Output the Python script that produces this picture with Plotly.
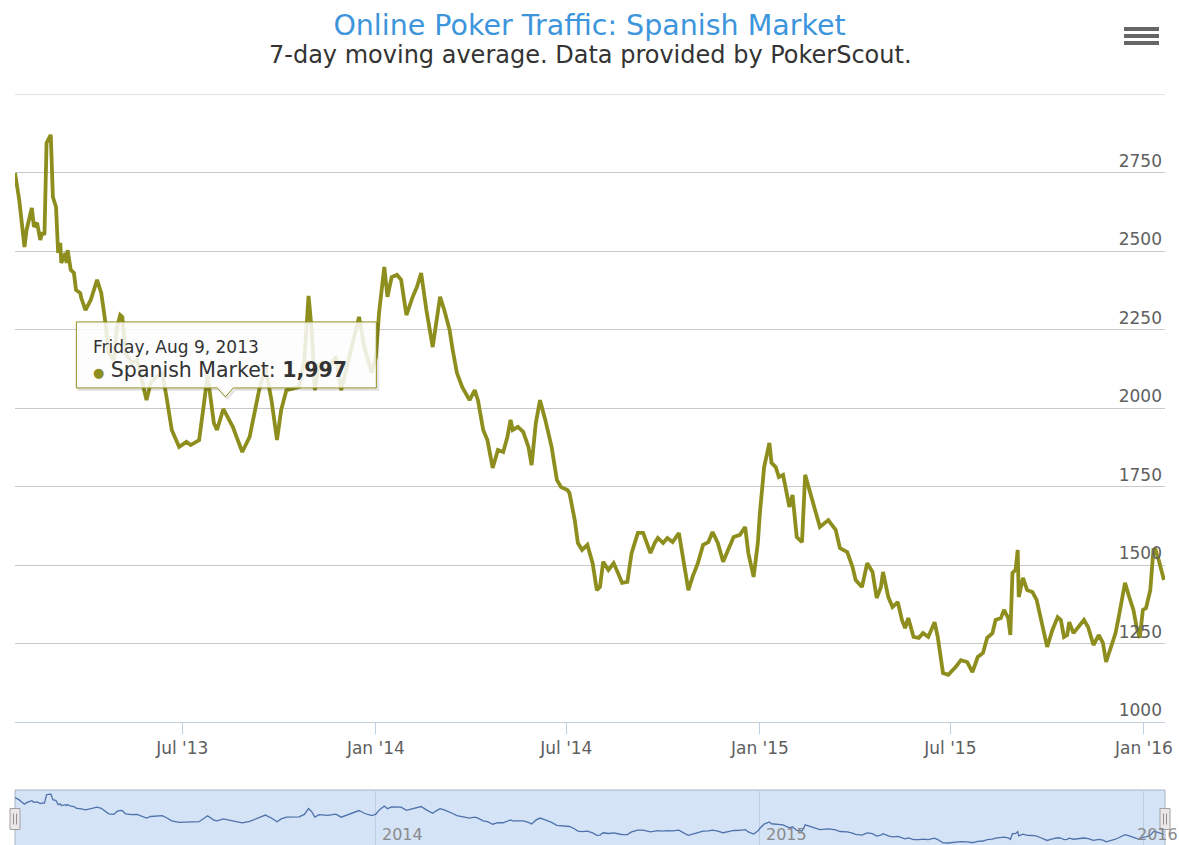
import plotly.graph_objects as go

# ---------------- data ----------------
dates = [
    "2013-01-23", "2013-01-27", "2013-02-01", "2013-02-03", "2013-02-08", "2013-02-10", "2013-02-13",
    "2013-02-16", "2013-02-18", "2013-02-20", "2013-02-22", "2013-02-26", "2013-02-28", "2013-03-03",
    "2013-03-05", "2013-03-07", "2013-03-08", "2013-03-12", "2013-03-13", "2013-03-14", "2013-03-17",
    "2013-03-20", "2013-03-22", "2013-03-26", "2013-03-27", "2013-03-31", "2013-04-05", "2013-04-11",
    "2013-04-15", "2013-04-19", "2013-04-22", "2013-04-27", "2013-04-30", "2013-05-03", "2013-05-05",
    "2013-05-08", "2013-05-14", "2013-05-19", "2013-05-28", "2013-06-01", "2013-06-06", "2013-06-12",
    "2013-06-16", "2013-06-21", "2013-06-28", "2013-07-05", "2013-07-09", "2013-07-17", "2013-07-22",
    "2013-07-25", "2013-07-31", "2013-08-03", "2013-08-09", "2013-08-18", "2013-08-27", "2013-09-03",
    "2013-09-12", "2013-09-18", "2013-09-24", "2013-09-29", "2013-10-03", "2013-10-08", "2013-10-20",
    "2013-10-25", "2013-10-29", "2013-11-01", "2013-11-04", "2013-11-08", "2013-11-16", "2013-11-24",
    "2013-11-29", "2013-12-07", "2013-12-16", "2013-12-21", "2013-12-28", "2014-01-01", "2014-01-04",
    "2014-01-09", "2014-01-12", "2014-01-16", "2014-01-21", "2014-01-25", "2014-01-30", "2014-02-05",
    "2014-02-09", "2014-02-13", "2014-02-18", "2014-02-24", "2014-02-27", "2014-03-03", "2014-03-07",
    "2014-03-12", "2014-03-15", "2014-03-19", "2014-03-24", "2014-03-31", "2014-04-05", "2014-04-08",
    "2014-04-13", "2014-04-17", "2014-04-22", "2014-04-27", "2014-05-02", "2014-05-06", "2014-05-09",
    "2014-05-11", "2014-05-16", "2014-05-21", "2014-05-26", "2014-05-29", "2014-06-02", "2014-06-06",
    "2014-06-11", "2014-06-17", "2014-06-22", "2014-06-26", "2014-07-02", "2014-07-04", "2014-07-09",
    "2014-07-12", "2014-07-16", "2014-07-21", "2014-07-26", "2014-07-30", "2014-08-02", "2014-08-05",
    "2014-08-10", "2014-08-15", "2014-08-19", "2014-08-23", "2014-08-28", "2014-09-01", "2014-09-07",
    "2014-09-12", "2014-09-19", "2014-09-23", "2014-09-26", "2014-10-01", "2014-10-05", "2014-10-10",
    "2014-10-16", "2014-10-20", "2014-10-25", "2014-10-29", "2014-11-03", "2014-11-08", "2014-11-13",
    "2014-11-17", "2014-11-22", "2014-11-27", "2014-12-02", "2014-12-07", "2014-12-13", "2014-12-18",
    "2014-12-21", "2014-12-26", "2014-12-30", "2015-01-01", "2015-01-05", "2015-01-10", "2015-01-12",
    "2015-01-16", "2015-01-19", "2015-01-23", "2015-01-29", "2015-02-01", "2015-02-05", "2015-02-10",
    "2015-02-13", "2015-02-17", "2015-02-22", "2015-02-27", "2015-03-07", "2015-03-14", "2015-03-18",
    "2015-03-25", "2015-03-30", "2015-04-02", "2015-04-08", "2015-04-13", "2015-04-18", "2015-04-22",
    "2015-04-26", "2015-04-28", "2015-05-03", "2015-05-07", "2015-05-12", "2015-05-16", "2015-05-19",
    "2015-05-22", "2015-05-27", "2015-06-01", "2015-06-05", "2015-06-10", "2015-06-16", "2015-06-19",
    "2015-06-24", "2015-06-29", "2015-07-06", "2015-07-11", "2015-07-17", "2015-07-22", "2015-07-27",
    "2015-08-01", "2015-08-05", "2015-08-10", "2015-08-13", "2015-08-18", "2015-08-21", "2015-08-25",
    "2015-08-27", "2015-08-29", "2015-09-01", "2015-09-03", "2015-09-04", "2015-09-08", "2015-09-12",
    "2015-09-17", "2015-09-21", "2015-09-25", "2015-10-01", "2015-10-06", "2015-10-11", "2015-10-14",
    "2015-10-17", "2015-10-20", "2015-10-22", "2015-10-26", "2015-10-31", "2015-11-05", "2015-11-09",
    "2015-11-14", "2015-11-19", "2015-11-23", "2015-11-26", "2015-12-01", "2015-12-05", "2015-12-08",
    "2015-12-12", "2015-12-14", "2015-12-18", "2015-12-22", "2015-12-25", "2015-12-28", "2015-12-31",
    "2016-01-03", "2016-01-07", "2016-01-10", "2016-01-12", "2016-01-15", "2016-01-20",
]
players = [
    2748, 2663, 2513, 2567, 2637, 2577, 2590,
    2535, 2560, 2551, 2844, 2870, 2672, 2640,
    2494, 2526, 2462, 2494, 2462, 2503, 2440,
    2430, 2376, 2366, 2350, 2312, 2344, 2408,
    2366, 2271, 2175, 2153, 2258, 2296, 2290,
    2175, 2143, 2153, 2025, 2080, 2099, 2112,
    2035, 1930, 1876, 1892, 1882, 1898, 2025,
    2105, 1952, 1930, 1997, 1940, 1860, 1908,
    2057, 2130, 2020, 1898, 1994, 2057, 2067,
    2153, 2357, 2249, 2057, 2143, 2121, 2163,
    2057, 2163, 2290, 2194, 2112, 2163, 2303,
    2449, 2354, 2417, 2424, 2408, 2296, 2354,
    2385, 2430, 2312, 2194, 2271, 2354, 2312,
    2249, 2185, 2112, 2067, 2025, 2057, 2025,
    1930, 1898, 1809, 1866, 1860, 1908, 1962,
    1930, 1940, 1924, 1876, 1818, 1952, 2025,
    1962, 1876, 1771, 1748, 1739, 1729, 1643,
    1570, 1548, 1564, 1506, 1420, 1430, 1510,
    1484, 1506, 1475, 1443, 1446, 1538, 1602,
    1602, 1538, 1570, 1586, 1570, 1586, 1573,
    1602, 1516, 1420, 1462, 1506, 1564, 1573,
    1605, 1570, 1510, 1548, 1589, 1596, 1621,
    1538, 1462, 1570, 1666, 1812, 1889, 1825,
    1812, 1780, 1787, 1685, 1723, 1589, 1573,
    1787, 1739, 1675, 1621, 1643, 1612, 1554,
    1541, 1494, 1452, 1430, 1506, 1478, 1395,
    1430, 1478, 1398, 1366, 1382, 1325, 1299,
    1331, 1271, 1268, 1283, 1271, 1318, 1271,
    1156, 1150, 1175, 1197, 1191, 1159, 1207,
    1220, 1268, 1283, 1325, 1331, 1357, 1331,
    1277, 1475, 1484, 1548, 1398, 1459, 1420,
    1414, 1389, 1334, 1239, 1293, 1334, 1325,
    1271, 1277, 1318, 1283, 1302, 1325, 1302,
    1245, 1277, 1252, 1191, 1239, 1283, 1334,
    1411, 1443, 1398, 1357, 1302, 1268, 1357,
    1363, 1420, 1548, 1548, 1516, 1452,
]
series_name = "Spanish Market"

x_tick_dates = ["2013-07-01", "2014-01-01", "2014-07-01", "2015-01-01", "2015-07-01", "2016-01-01"]
x_tick_text = ["Jul '13", "Jan '14", "Jul '14", "Jan '15", "Jul '15", "Jan '16"]
y_tick_vals = [1000, 1250, 1500, 1750, 2000, 2250, 2500, 2750]
y_tick_text = ["1000", "1250", "1500", "1750", "2000", "2250", "2500", "2750"]
y_top = 3000
nav_year_dates = ["2014-01-01", "2015-01-01", "2016-01-01"]
nav_year_text = ["2014", "2015", "2016"]

tooltip_date = "2013-08-09"
tooltip_label = "Friday, Aug 9, 2013"
tooltip_value = players[dates.index(tooltip_date)]

x_range = ["2013-01-23", "2016-01-21"]

# ---------------- styles ----------------
W, H = 1179, 845
LINE_COLOR = "#8E8E1F"
NAV_LINE = "#4F72AC"
TICK_FONT = dict(family="DejaVu Sans, sans-serif", size=17, color="#606060")

fig = go.Figure()

fig.add_trace(go.Scatter(
    x=dates, y=players, mode="lines", name=series_name,
    line=dict(color=LINE_COLOR, width=3.8), xaxis="x", yaxis="y",
    hoverinfo="skip",
))
fig.add_trace(go.Scatter(
    x=dates, y=players, mode="lines", name=series_name + " (navigator)",
    line=dict(color=NAV_LINE, width=1.3), xaxis="x2", yaxis="y2",
    hoverinfo="skip",
))

m_top, m_bottom = 94, 0
plot_h = H - m_top - m_bottom
main_bottom_px = 722
nav_top_px = 790
main_domain = [(H - main_bottom_px) / plot_h, 1.0]
nav_domain = [0.0, (H - nav_top_px) / plot_h]

fig.update_layout(
    width=W, height=H,
    margin=dict(l=15, r=14, t=m_top, b=m_bottom),
    paper_bgcolor="white", plot_bgcolor="white",
    showlegend=False,
    title=dict(
        text="Online Poker Traffic: Spanish Market",
        x=0.5, xanchor="center", y=1 - 25 / H, yanchor="middle",
        font=dict(family="DejaVu Sans, sans-serif", size=28.5, color="#3D95DC"),
    ),
    xaxis=dict(
        domain=[0, 1], range=x_range, anchor="y",
        tickmode="array", tickvals=x_tick_dates, ticktext=x_tick_text,
        showgrid=False, showline=True, linecolor="#C0D0E0", linewidth=1,
        ticks="outside", ticklen=11, tickcolor="#C0D0E0", tickwidth=1,
        tickfont=TICK_FONT, zeroline=False, ticklabeloverflow="allow",
    ),
    yaxis=dict(
        domain=main_domain, range=[1000, y_top], anchor="x", side="right",
        tickmode="array", tickvals=y_tick_vals, ticktext=y_tick_text,
        ticklabelposition="inside top", ticklabeloverflow="allow",
        showgrid=True, gridcolor="#C8C8C8", gridwidth=1,
        showline=False, zeroline=False, ticks="",
        tickfont=TICK_FONT,
    ),
    xaxis2=dict(
        domain=[0, 1], range=x_range, anchor="y2",
        tickmode="array", tickvals=nav_year_dates, ticktext=["", "", ""],
        showgrid=True, gridcolor="#BFCDE0", gridwidth=1,
        showline=False, zeroline=False, ticks="",
    ),
    yaxis2=dict(
        domain=nav_domain, range=[1080, 3010], anchor="x2",
        showgrid=False, showticklabels=False, zeroline=False, showline=False,
    ),
)

# top grid line (3000, unlabelled)
fig.add_shape(type="line", xref="x domain", yref="y", x0=0, x1=1, y0=y_top, y1=y_top,
              line=dict(color="#C8C8C8", width=1), layer="below")

# subtitle
fig.add_annotation(
    text="7-day moving average. Data provided by PokerScout.",
    xref="paper", yref="paper", x=0.5, y=(H - 55) / plot_h,
    xanchor="center", yanchor="middle", showarrow=False,
    font=dict(family="DejaVu Sans, sans-serif", size=24, color="#333333"),
)

# navigator background + outline
fig.add_shape(type="rect", xref="x2 domain", yref="y2 domain", x0=0, x1=1, y0=-0.1, y1=1,
              fillcolor="rgba(170,200,235,0.5)", line=dict(color="#A9B4C4", width=1), layer="below")

# navigator year labels (last one pulled inside the chart edge)
nav_label_anchor = ["left", "left", "right"]
nav_label_shift = [4, 4, 36]
for d, t, a, s in zip(nav_year_dates, nav_year_text, nav_label_anchor, nav_label_shift):
    fig.add_annotation(text=t, x=d, y=0.2, xref="x2", yref="y2 domain",
                       xanchor=a, yanchor="middle", xshift=s, showarrow=False,
                       font=dict(family="DejaVu Sans, sans-serif", size=16, color="#8A8A8A"))

# navigator handles
for xd in [0, 1]:
    fig.add_shape(type="rect", xref="x2 domain", yref="y2 domain",
                  xsizemode="pixel", ysizemode="pixel", xanchor=xd, yanchor=0.5,
                  x0=-5, x1=5, y0=-12, y1=9,
                  fillcolor="#EBE7E8", line=dict(color="#A0A0A0", width=1), layer="above")
    for dx in (-1.5, 1.5):
        fig.add_shape(type="line", xref="x2 domain", yref="y2 domain",
                      xsizemode="pixel", ysizemode="pixel", xanchor=xd, yanchor=0.5,
                      x0=dx, x1=dx, y0=-7, y1=4,
                      line=dict(color="#909090", width=1), layer="above")

# tooltip (callout box anchored at the hovered data point)
box_path = "M -147 21 L -147 87 L 153 87 L 153 21 L 10 21 L 2 12 L -6 21 Z"
shadow_path = "M -145 19 L -145 85 L 155 85 L 155 19 L 12 19 L 4 10 L -4 19 Z"
fig.add_shape(type="path", path=shadow_path, xref="x", yref="y",
              xsizemode="pixel", ysizemode="pixel", xanchor=tooltip_date, yanchor=tooltip_value,
              fillcolor="rgba(0,0,0,0.06)", line=dict(color="rgba(0,0,0,0.08)", width=2), layer="above")
fig.add_shape(type="path", path=box_path, xref="x", yref="y",
              xsizemode="pixel", ysizemode="pixel", xanchor=tooltip_date, yanchor=tooltip_value,
              fillcolor="rgba(255,255,255,0.85)", line=dict(color=LINE_COLOR, width=1), layer="above")
fig.add_annotation(text=tooltip_label, x=tooltip_date, y=tooltip_value, xref="x", yref="y",
                   xanchor="left", yanchor="middle", xshift=-132, yshift=62, showarrow=False,
                   font=dict(family="DejaVu Sans, sans-serif", size=17, color="#333333"))
fig.add_annotation(
    text=f"<span style='color:{LINE_COLOR};font-size:13px'>●</span> {series_name}: <b>{tooltip_value:,}</b>",
    x=tooltip_date, y=tooltip_value, xref="x", yref="y",
    xanchor="left", yanchor="middle", xshift=-132, yshift=39, showarrow=False,
    font=dict(family="DejaVu Sans, sans-serif", size=20.5, color="#333333"))

# export menu icon
for py in (29, 36, 43):
    yp = (H - py) / plot_h
    fig.add_shape(type="line", xref="paper", yref="paper",
                  x0=(1124 - 15) / 1150, x1=(1159 - 15) / 1150, y0=yp, y1=yp,
                  line=dict(color="#666666", width=4))

fig.write_html("out.html", config={"displayModeBar": False},
               post_script="document.body.style.margin='0px';")
